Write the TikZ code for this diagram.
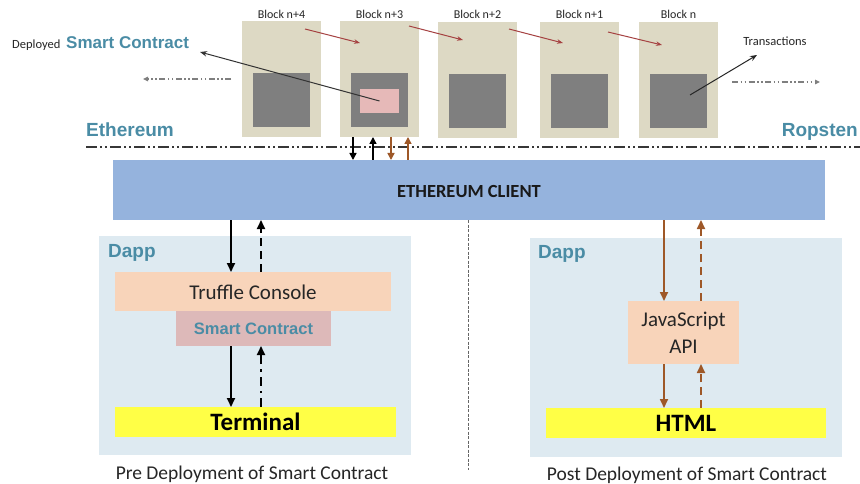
\documentclass[tikz,border=0pt]{standalone}
\usepackage{fontspec}
\setmainfont{Carlito}
\newfontfamily\arialf{Liberation Sans}
\usetikzlibrary{arrows.meta}
\definecolor{tanc}{RGB}{221,217,196}
\definecolor{grayc}{RGB}{127,127,127}
\definecolor{pinkc}{RGB}{230,185,184}
\definecolor{clientc}{RGB}{149,179,221}
\definecolor{dappc}{RGB}{222,234,241}
\definecolor{peachc}{RGB}{248,212,186}
\definecolor{scboxc}{RGB}{221,185,185}
\definecolor{yellowc}{RGB}{255,255,70}
\definecolor{tealc}{RGB}{74,140,165}
\definecolor{brownc}{RGB}{158,88,40}
\definecolor{redc}{RGB}{165,65,65}
\definecolor{linec}{RGB}{55,55,55}
\begin{document}
\begin{tikzpicture}[x=1pt,y=-1pt,
  rbox/.style={draw=none,inner sep=0pt,outer sep=0pt,anchor=north west},
  blk/.style={rbox,fill=tanc,minimum width=79pt,minimum height=116pt},
  gsq/.style={rbox,fill=grayc,minimum width=57pt,minimum height=54pt},
  blklabel/.style={anchor=base,inner sep=0pt,text=black!85,font=\fontsize{12}{14}\selectfont},
  tealbig/.style={inner sep=0pt,text=tealc,font=\arialf\bfseries\fontsize{19}{21}\selectfont},
  tip/.style={-{Triangle[length=9pt,width=8pt]}},
  smalltip/.style={-{Triangle[length=5pt,width=4.5pt]}},
  blkarrow/.style={tip,line width=1.7pt,black},
  brarrow/.style={tip,line width=1.7pt,brownc},
  topblk/.style={-{Triangle[length=7pt,width=7pt]},line width=1.5pt,black},
  topbr/.style={-{Triangle[length=7pt,width=7pt]},line width=1.5pt,brownc},
  dashedarr/.style={dash pattern=on 8pt off 5pt},
  dashdotarr/.style={dash pattern=on 9pt off 5pt on 2.5pt off 5pt},
  chainarr/.style={-{Stealth[length=6pt,width=4.5pt]},redc,line width=1pt},
  outerarr/.style={smalltip,grayc,line width=1.1pt,dash pattern=on 6pt off 2.5pt on 1.5pt off 2.5pt on 1.5pt off 2.5pt},
  ethline/.style={linec,line width=1.6pt,dash pattern=on 11pt off 3pt on 2pt off 3pt on 2pt off 3pt}
]
\useasboundingbox[fill=white] (0,0) rectangle (860,484);

% blocks
\node[blk] (b4) at (242,21) {};
\node[blk] (b3) at (340,21) {};
\node[blk] (b2) at (438,22) {};
\node[blk] (b1) at (540,22) {};
\node[blk] (b0) at (639,22) {};
\node[gsq] (g4) at (253,73) {};
\node[gsq] (g3) at (351,73) {};
\node[gsq] (g2) at (449,74) {};
\node[gsq] (g1) at (551,74) {};
\node[gsq] (g0) at (650,74) {};
\node[rbox,fill=pinkc,minimum width=39pt,minimum height=24pt] (pink) at (360,89) {};

\node[blklabel] (l4) at (281.5,19) {Block n+4};
\node[blklabel] (l3) at (379.5,19) {Block n+3};
\node[blklabel] (l2) at (477.5,19) {Block n+2};
\node[blklabel] (l1) at (579.5,19) {Block n+1};
\node[blklabel] (l0) at (678.5,19) {Block n};

% chain arrows
\coordinate (c1s) at (305,29); \coordinate (c1e) at (360,43);
\coordinate (c2s) at (409,26); \coordinate (c2e) at (463,40);
\coordinate (c3s) at (509,29); \coordinate (c3e) at (563,43);
\coordinate (c4s) at (608,32); \coordinate (c4e) at (662,45);
\draw[chainarr] (c1s) -- (c1e);
\draw[chainarr] (c2s) -- (c2e);
\draw[chainarr] (c3s) -- (c3e);
\draw[chainarr] (c4s) -- (c4e);

% outer dash-dot arrows
\coordinate (ol1) at (231,79); \coordinate (ol2) at (143,79);
\coordinate (or1) at (732,82); \coordinate (or2) at (820,82);
\draw[outerarr] (ol1) -- (ol2);
\draw[outerarr] (or1) -- (or2);

% deployed smart contract
\node[anchor=base west,inner sep=0pt,text=black!85,font=\fontsize{12.5}{14}\selectfont] (dep) at (12,49) {Deployed};
\node[tealbig,anchor=base west,font=\arialf\bfseries\fontsize{17}{19}\selectfont] (sctop) at (66,49) {Smart Contract};
\coordinate (sctip) at (200,52);
\draw[-{Stealth[length=7pt,width=5.5pt]},black!80,line width=1pt] (pink.center) -- (sctip);

% transactions
\node[anchor=base,inner sep=0pt,text=black!85,font=\fontsize{12.5}{14}\selectfont] (trans) at (775,46) {Transactions};
\coordinate (trs) at (690,95); \coordinate (tre) at (757,55);
\draw[-{Stealth[length=7pt,width=5.5pt]},black!85,line width=1pt] (trs) -- (tre);

% network labels
\node[tealbig,anchor=base west] (eth) at (86,137) {Ethereum};
\node[tealbig,anchor=base east] (rop) at (858,137) {Ropsten};
\coordinate (ethL) at (86,147); \coordinate (ethR) at (860,147);
\draw[ethline] (ethL) -- (ethR);

% client
\node[rbox,fill=clientc,minimum width=712pt,minimum height=60pt] (client) at (113,160) {};
\node[anchor=base,inner sep=0pt,font=\bfseries\fontsize{18.5}{20}\selectfont,text=black!90] (clienttext) at (469,197) {ETHEREUM CLIENT};

% arrows block n+3 <-> client
\coordinate (xa) at (353,0); \coordinate (xb) at (373,0);
\coordinate (xc) at (391,0); \coordinate (xd) at (408,0);
\draw[topblk] (b3.south -| xa) -- (client.north -| xa);
\draw[topblk] (client.north -| xb) -- (b3.south -| xb);
\draw[topbr] (b3.south -| xc) -- (client.north -| xc);
\draw[topbr] (client.north -| xd) -- (b3.south -| xd);

% separator
\coordinate (sepend) at (468,470);
\draw[black!60,line width=0.6pt,dash pattern=on 3pt off 1.5pt] (client.south -| sepend) -- (sepend);

% left dapp
\node[rbox,fill=dappc,minimum width=312pt,minimum height=219pt] (dappL) at (99,236) {};
\node[tealbig,anchor=base west] (dappLt) at (108,257) {Dapp};
\node[rbox,fill=peachc,minimum width=276pt,minimum height=39pt] (truffle) at (115,272) {};
\node[font=\fontsize{21}{24}\selectfont,text=black!85,inner sep=0pt] (truffletext) at (253,292) {Truffle Console};
\node[rbox,fill=scboxc,minimum width=155pt,minimum height=35pt] (scbox) at (176,311) {};
\node[tealbig,font=\arialf\bfseries\fontsize{16.5}{19}\selectfont] (scboxtext) at (scbox.center) {Smart Contract};
\node[rbox,fill=yellowc,minimum width=281pt,minimum height=30pt] (term) at (115,407) {};
\node[font=\bfseries\fontsize{25}{28}\selectfont,inner sep=0pt] (termtext) at (255.5,422) {Terminal};
\node[anchor=base,inner sep=0pt,font=\fontsize{19.5}{22}\selectfont,text=black!85] (pre) at (252,479) {Pre Deployment of Smart Contract};

\coordinate (xl1) at (231,0); \coordinate (xl2) at (261,0);
\draw[blkarrow] (client.south -| xl1) -- (truffle.north -| xl1);
\draw[blkarrow,dashedarr] (truffle.north -| xl2) -- (client.south -| xl2);
\draw[blkarrow] (scbox.south -| xl1) -- (term.north -| xl1);
\draw[blkarrow,dashdotarr] (term.north -| xl2) -- (scbox.south -| xl2);

% right dapp
\node[rbox,fill=dappc,minimum width=312pt,minimum height=219pt] (dappR) at (530,238) {};
\node[tealbig,anchor=base west] (dappRt) at (538,258) {Dapp};
\node[rbox,fill=peachc,minimum width=111pt,minimum height=63pt] (js) at (628,301) {};
\node[font=\fontsize{21}{27}\selectfont,text=black!85,inner sep=0pt,align=center] (jstext) at (js.center) {JavaScript\\API};
\node[rbox,fill=yellowc,minimum width=280pt,minimum height=30pt] (html) at (546,408) {};
\node[font=\bfseries\fontsize{25}{28}\selectfont,inner sep=0pt] (htmltext) at (686,423) {HTML};
\node[anchor=base,inner sep=0pt,font=\fontsize{19.5}{22}\selectfont,text=black!85] (post) at (687,480) {Post Deployment of Smart Contract};

\coordinate (xr1) at (664,0); \coordinate (xr2) at (701,0);
\draw[brarrow] (client.south -| xr1) -- (js.north -| xr1);
\draw[brarrow,dashedarr] (js.north -| xr2) -- (client.south -| xr2);
\draw[brarrow] (js.south -| xr1) -- (html.north -| xr1);
\draw[brarrow,dashedarr] (html.north -| xr2) -- (js.south -| xr2);
\end{tikzpicture}
\end{document}
